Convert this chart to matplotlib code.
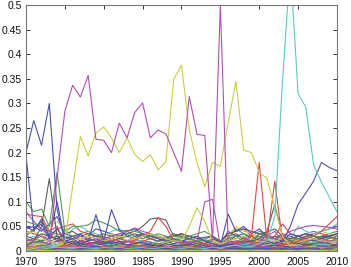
import numpy as np
import matplotlib
matplotlib.use("Agg")
import matplotlib.pyplot as plt

# years on the x axis
years = list(range(1970, 2011))

# main series, values in thousandths
magenta_main = [5, 8, 4, 10, 150, 284, 337, 313, 357, 227, 225, 200, 260, 230, 282, 301, 230, 246, 238, 200,
                162, 314, 237, 235, 20, 500, 20, 15, 10, 12, 8, 10, 6, 8, 5, 10, 8, 6, 9, 7, 8]
yellow_main = [3, 5, 4, 6, 8, 20, 130, 233, 193, 240, 252, 230, 200, 230, 196, 182, 196, 165, 182, 349,
               378, 247, 179, 131, 180, 172, 260, 345, 205, 200, 160, 147, 88, 30, 10, 12, 8, 10, 6, 8, 5]
blue_early = [200, 265, 215, 300, 85, 20, 15, 10, 8, 10, 6, 8, 5, 7, 6, 5, 8, 6, 5, 7,
              6, 5, 8, 6, 5, 7, 6, 5, 4, 6, 5, 4, 6, 5, 4, 5, 6, 4, 5, 6, 5]
blue_drop = [195, 45, 55, 25, 100, 20, 25, 15, 20, 25, 18, 15, 20, 12, 15, 18, 12, 10, 15, 12,
             10, 12, 15, 10, 8, 10, 12, 15, 10, 12, 8, 10, 12, 10, 8, 10, 12, 10, 8, 10, 12]
cyan_main = [5, 8, 6, 10, 8, 6, 5, 8, 6, 5, 7, 6, 8, 5, 6, 7, 5, 6, 8, 6,
             5, 7, 6, 5, 8, 6, 10, 12, 8, 10, 15, 20, 70, 347, 580, 320, 292, 175, 140, 110, 80]
purple_rise = [4, 5, 6, 4, 5, 6, 4, 5, 6, 5, 4, 6, 5, 4, 6, 5, 4, 5, 6, 4,
               5, 6, 4, 5, 6, 10, 12, 8, 10, 12, 10, 20, 15, 20, 50, 95, 118, 142, 180, 170, 163]
red_spikes = [10, 8, 12, 10, 8, 12, 10, 8, 12, 10, 8, 12, 10, 8, 12, 10, 8, 12, 10, 8,
              12, 10, 8, 12, 10, 8, 12, 15, 20, 30, 180, 20, 142, 20, 15, 20, 25, 30, 40, 55, 70]
gray_peak = [10, 20, 50, 147, 30, 15, 20, 12, 15, 18, 12, 10, 15, 12, 10, 12, 15, 10, 8, 10,
             12, 15, 10, 12, 8, 10, 12, 15, 18, 20, 25, 40, 94, 30, 20, 15, 12, 15, 18, 15, 12]
green_peak = [100, 80, 85, 50, 160, 40, 50, 50, 53, 63, 57, 50, 40, 42, 40, 35, 30, 28, 25, 30,
              28, 25, 20, 22, 20, 15, 25, 30, 28, 25, 30, 28, 25, 22, 20, 25, 28, 30, 28, 25, 30]
olive_mid = [30, 25, 20, 25, 30, 28, 25, 30, 35, 30, 28, 25, 30, 35, 40, 50, 65, 67, 63, 30,
             35, 30, 25, 28, 30, 20, 35, 40, 45, 40, 35, 38, 45, 30, 25, 30, 35, 30, 28, 30, 35]
red_early = [75, 72, 70, 40, 50, 10, 15, 20, 18, 15, 20, 25, 20, 18, 22, 30, 40, 68, 50, 20,
             18, 15, 20, 15, 12, 10, 15, 18, 20, 15, 18, 20, 15, 12, 15, 18, 20, 22, 25, 20, 18]
blue_mid = [50, 40, 65, 30, 45, 25, 30, 35, 20, 74, 20, 84, 43, 30, 25, 35, 30, 25, 20, 25,
            20, 25, 30, 20, 15, 10, 75, 40, 50, 35, 45, 30, 25, 20, 35, 30, 25, 20, 25, 30, 35]
magenta_low = [20, 25, 30, 20, 15, 20, 25, 30, 25, 20, 25, 30, 35, 40, 47, 40, 35, 30, 25, 20,
               15, 18, 20, 100, 105, 10, 15, 20, 25, 20, 25, 30, 25, 30, 40, 45, 50, 52, 50, 48, 45]
yellow_low = [15, 20, 25, 20, 15, 18, 20, 25, 30, 25, 20, 25, 30, 28, 25, 30, 35, 30, 25, 20,
              20, 50, 88, 60, 20, 15, 20, 25, 30, 25, 20, 18, 20, 25, 20, 18, 22, 25, 20, 18, 20]

# background bundle near zero, thousandths
bundle_a = [
    [30, 45, 60, 35, 20, 25, 30, 20, 25, 30, 35, 30, 25, 20, 30, 35, 30, 25, 20, 15, 20, 25, 30, 20, 15, 10, 30, 35, 25, 30, 20, 25, 30, 25, 20, 30, 35, 30, 25, 30, 35],
    [45, 50, 40, 55, 70, 35, 30, 25, 30, 45, 40, 35, 30, 40, 45, 35, 25, 20, 30, 25, 20, 15, 20, 25, 30, 15, 40, 30, 35, 25, 20, 15, 20, 25, 20, 25, 30, 35, 40, 45, 50],
    [60, 55, 45, 40, 35, 30, 25, 35, 40, 30, 25, 30, 35, 40, 30, 25, 30, 35, 30, 20, 25, 30, 35, 40, 30, 20, 25, 45, 35, 30, 40, 35, 25, 20, 25, 30, 25, 20, 30, 35, 40],
    [40, 35, 30, 25, 45, 50, 55, 40, 35, 30, 20, 25, 30, 20, 15, 20, 25, 30, 25, 30, 35, 25, 20, 15, 20, 10, 35, 40, 45, 30, 25, 20, 30, 55, 35, 30, 35, 40, 35, 30, 25],
    [25, 30, 20, 40, 30, 20, 45, 50, 40, 35, 30, 40, 45, 35, 25, 20, 15, 20, 25, 20, 30, 25, 20, 25, 15, 20, 25, 30, 20, 25, 30, 20, 25, 20, 25, 50, 40, 35, 40, 45, 55],
    [80, 60, 45, 30, 25, 20, 15, 20, 25, 30, 25, 20, 15, 20, 25, 30, 35, 30, 25, 30, 35, 30, 25, 20, 15, 10, 20, 25, 30, 25, 20, 30, 40, 20, 25, 20, 30, 25, 20, 25, 30],
    [35, 40, 30, 50, 60, 45, 30, 25, 20, 25, 30, 35, 28, 22, 25, 30, 25, 20, 18, 25, 30, 22, 18, 20, 25, 12, 30, 50, 40, 35, 30, 25, 20, 30, 25, 20, 25, 30, 40, 35, 30],
    [20, 25, 35, 30, 25, 35, 40, 30, 25, 20, 15, 20, 25, 30, 35, 30, 25, 20, 25, 35, 30, 25, 20, 15, 25, 18, 20, 30, 25, 20, 35, 30, 25, 35, 30, 25, 20, 25, 30, 28, 25],
]
bundle_b = [
    [12, 15, 18, 10, 8, 12, 15, 10, 12, 18, 15, 10, 8, 12, 15, 18, 12, 10, 8, 12, 15, 10, 12, 15, 10, 5, 12, 15, 18, 12, 10, 15, 18, 12, 10, 15, 12, 18, 20, 15, 12],
    [18, 12, 10, 15, 20, 15, 12, 18, 15, 10, 12, 15, 18, 12, 10, 8, 12, 15, 10, 12, 8, 10, 12, 15, 8, 6, 15, 12, 10, 15, 18, 12, 10, 15, 12, 10, 12, 15, 12, 10, 15],
    [8, 10, 12, 15, 10, 8, 6, 10, 12, 8, 10, 12, 10, 8, 6, 8, 10, 12, 15, 10, 8, 12, 10, 8, 10, 5, 8, 12, 10, 8, 12, 15, 10, 8, 12, 10, 8, 10, 12, 15, 18],
    [15, 18, 20, 12, 15, 18, 20, 15, 12, 10, 15, 18, 15, 12, 15, 20, 18, 15, 12, 10, 12, 15, 18, 12, 10, 8, 18, 20, 15, 12, 15, 18, 20, 15, 12, 18, 15, 12, 15, 18, 20],
    [10, 8, 12, 10, 15, 12, 10, 8, 10, 12, 15, 12, 10, 12, 8, 10, 12, 10, 8, 10, 12, 8, 10, 12, 10, 6, 10, 12, 15, 10, 12, 10, 8, 12, 15, 12, 10, 12, 10, 8, 10],
    [22, 18, 15, 20, 25, 18, 15, 12, 15, 18, 20, 18, 15, 12, 18, 15, 12, 15, 18, 20, 15, 12, 10, 12, 15, 8, 15, 18, 22, 18, 15, 12, 15, 18, 22, 20, 18, 15, 18, 20, 22],
    [5, 8, 10, 12, 8, 10, 12, 8, 6, 8, 10, 8, 6, 8, 10, 12, 10, 8, 6, 8, 10, 12, 8, 6, 8, 4, 8, 10, 8, 10, 12, 8, 10, 12, 8, 10, 12, 8, 10, 12, 8],
    [14, 10, 8, 12, 14, 10, 12, 14, 10, 8, 12, 14, 12, 10, 8, 12, 14, 12, 10, 12, 14, 10, 12, 8, 10, 6, 12, 10, 14, 12, 10, 12, 14, 10, 12, 14, 10, 12, 14, 12, 10],
    [25, 20, 18, 15, 20, 22, 18, 15, 12, 15, 18, 20, 15, 18, 20, 22, 18, 15, 12, 15, 18, 20, 15, 12, 10, 6, 12, 15, 20, 18, 22, 18, 15, 20, 18, 15, 20, 22, 18, 20, 25],
    [9, 12, 15, 10, 12, 14, 10, 8, 10, 12, 10, 8, 10, 12, 14, 10, 8, 10, 12, 10, 8, 10, 14, 12, 10, 5, 9, 12, 10, 8, 10, 12, 10, 12, 14, 10, 12, 10, 8, 10, 12],
]
bundle_c = [
    [3, 4, 5, 3, 2, 4, 5, 3, 4, 5, 3, 2, 4, 3, 5, 4, 3, 2, 4, 5, 3, 4, 2, 3, 4, 2, 3, 5, 4, 3, 4, 5, 3, 4, 5, 3, 4, 5, 3, 4, 5],
    [6, 5, 4, 6, 7, 5, 4, 6, 5, 4, 6, 7, 5, 4, 6, 5, 7, 6, 4, 5, 6, 4, 5, 6, 4, 3, 5, 6, 7, 5, 6, 4, 5, 6, 7, 5, 6, 4, 5, 6, 7],
    [2, 3, 2, 1, 2, 3, 2, 1, 2, 3, 2, 2, 1, 2, 3, 2, 1, 2, 2, 3, 2, 1, 2, 3, 2, 1, 2, 3, 2, 2, 3, 2, 1, 2, 3, 2, 2, 3, 2, 1, 2],
    [8, 7, 6, 8, 9, 7, 6, 8, 7, 6, 8, 7, 9, 8, 6, 7, 8, 6, 7, 8, 9, 7, 6, 8, 7, 4, 7, 8, 9, 7, 8, 6, 7, 8, 9, 8, 7, 6, 8, 9, 8],
    [4, 6, 5, 4, 3, 5, 6, 4, 5, 3, 4, 5, 6, 4, 5, 3, 4, 6, 5, 4, 3, 5, 4, 6, 5, 3, 4, 5, 6, 4, 5, 6, 4, 5, 4, 6, 5, 4, 5, 6, 4],
    [1, 2, 1, 1, 2, 1, 2, 1, 1, 2, 1, 1, 2, 1, 1, 2, 1, 2, 1, 1, 2, 1, 1, 2, 1, 1, 2, 1, 1, 2, 1, 2, 1, 1, 2, 1, 1, 2, 1, 2, 1],
    [10, 9, 8, 10, 11, 9, 8, 10, 9, 8, 10, 11, 9, 10, 8, 9, 10, 11, 9, 8, 10, 9, 8, 10, 9, 5, 9, 10, 11, 9, 10, 8, 9, 10, 11, 10, 9, 8, 10, 11, 10],
    [5, 4, 6, 7, 5, 4, 6, 5, 7, 6, 5, 4, 6, 7, 5, 6, 4, 5, 7, 6, 5, 4, 6, 5, 7, 3, 5, 6, 4, 5, 7, 6, 5, 4, 6, 5, 7, 6, 5, 4, 6],
    [3, 2, 4, 3, 5, 4, 3, 2, 3, 4, 5, 3, 2, 3, 4, 3, 5, 4, 3, 2, 3, 4, 3, 5, 4, 2, 3, 4, 3, 2, 4, 3, 5, 4, 3, 2, 4, 3, 4, 5, 3],
    [7, 8, 6, 7, 8, 9, 7, 6, 8, 7, 6, 8, 7, 9, 8, 7, 6, 7, 8, 9, 7, 6, 8, 7, 6, 4, 7, 8, 6, 7, 8, 7, 6, 8, 7, 9, 8, 7, 6, 8, 7],
]

xtick_vals = [1970, 1975, 1980, 1985, 1990, 1995, 2000, 2005, 2010]
ytick_vals = [0, 0.05, 0.1, 0.15, 0.2, 0.25, 0.3, 0.35, 0.4, 0.45, 0.5]
ytick_labels = ["0", "0.05", "0.1", "0.15", "0.2", "0.25", "0.3", "0.35", "0.4", "0.45", "0.5"]

# washed out matlab colour order
c_b = "#4d4db8"
c_g = "#4f9f4f"
c_r = "#e04848"
c_c = "#5cc8c8"
c_m = "#b050b0"
c_y = "#cccc44"
c_k = "#5e5e5e"
cycle = [c_b, c_g, c_r, c_c, c_m, c_y, c_k]

plt.rcParams["font.family"] = ["Liberation Sans", "DejaVu Sans"]

fig = plt.figure(figsize=(3.51, 2.67), dpi=100)
ax = fig.add_axes([0.074, 0.06, 0.886, 0.921])

x = np.array(years)
lw = 0.8

# bundle first so the named lines sit on top
i = 0
for grp in (bundle_c, bundle_b, bundle_a):
    for s in grp:
        ax.plot(x, np.array(s) / 1000.0, color=cycle[i % 7], lw=lw)
        i += 1

ax.plot(x, np.array(olive_mid) / 1000.0, color=c_k, lw=lw)
ax.plot(x, np.array(green_peak) / 1000.0, color=c_g, lw=lw)
ax.plot(x, np.array(red_early) / 1000.0, color=c_r, lw=lw)
ax.plot(x, np.array(blue_mid) / 1000.0, color=c_b, lw=lw)
ax.plot(x, np.array(magenta_low) / 1000.0, color=c_m, lw=lw)
ax.plot(x, np.array(yellow_low) / 1000.0, color=c_y, lw=lw)
ax.plot(x, np.array(gray_peak) / 1000.0, color=c_k, lw=lw)
ax.plot(x, np.array(red_spikes) / 1000.0, color=c_r, lw=lw)
ax.plot(x, np.array(purple_rise) / 1000.0, color="#5a4fb0", lw=lw)
ax.plot(x, np.array(blue_drop) / 1000.0, color=c_b, lw=lw)
ax.plot(x, np.array(blue_early) / 1000.0, color=c_b, lw=lw)
ax.plot(x, np.array(yellow_main) / 1000.0, color=c_y, lw=lw)
ax.plot(x, np.array(magenta_main) / 1000.0, color=c_m, lw=lw)
ax.plot(x, np.array(cyan_main) / 1000.0, color=c_c, lw=lw)

ax.set_xlim(1970, 2010)
ax.set_ylim(0, 0.5)
ax.set_xticks(xtick_vals)
ax.set_yticks(ytick_vals)
ax.set_yticklabels(ytick_labels)
ax.tick_params(direction="in", length=3, width=0.6, top=True, right=True,
               labelsize=7.5, colors="#111111")
ax.tick_params(axis="y", pad=3)
ax.tick_params(axis="x", pad=4.5)
for sp in ax.spines.values():
    sp.set_color("#777777")
    sp.set_linewidth(0.8)

fig.savefig("out.png", dpi=100)
